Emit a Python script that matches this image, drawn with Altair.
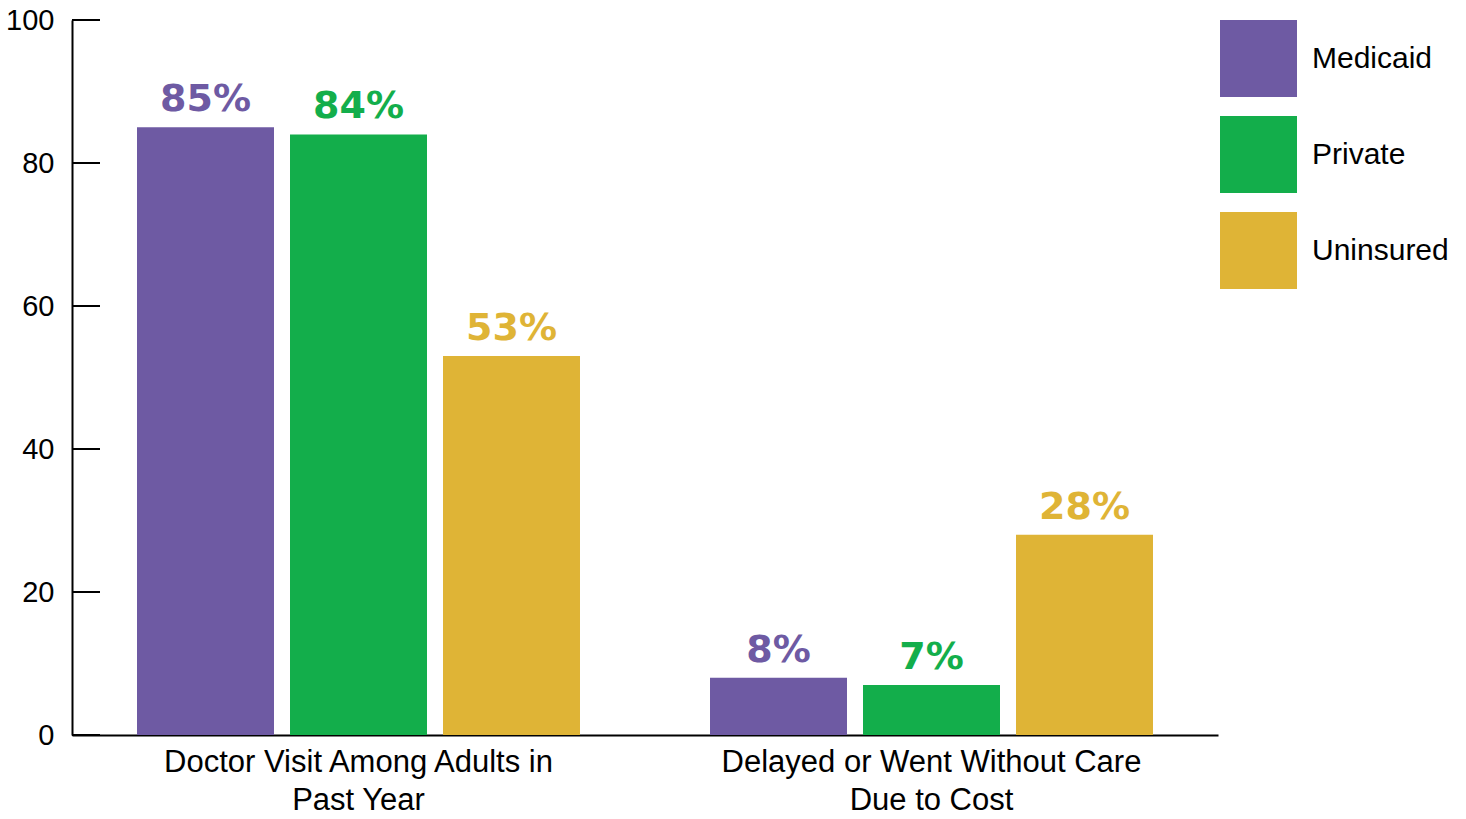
import altair as alt
import pandas as pd

FONT = "Liberation Sans"
BOLD_FONT = "DejaVu Sans"

categories = ["Doctor Visit Among Adults in|Past Year", "Delayed or Went Without Care|Due to Cost"]
groups = ["Medicaid", "Private", "Uninsured"]
medicaid = [85, 8]
private = [84, 7]
uninsured = [53, 28]
colors = ["#6E5AA3", "#13AE4B", "#DFB436"]
y_ticks = [0, 20, 40, 60, 80, 100]

rows = []
for g, vals in zip(groups, [medicaid, private, uninsured]):
    for c, v in zip(categories, vals):
        rows.append({"category": c, "group": g, "value": v, "label": f"{v}%"})
df = pd.DataFrame(rows)
ticks_df = pd.DataFrame({"value": y_ticks})

x = alt.X(
    "category:N",
    sort=categories,
    scale=alt.Scale(paddingInner=0.2269, paddingOuter=0.11345),
    axis=alt.Axis(
        title=None, labelAngle=0, labelExpr="split(datum.label, '|')",
        labelFontSize=31, labelLineHeight=38, labelPadding=12, ticks=False,
        domainColor="black", domainWidth=2, labelColor="black", labelFont=FONT,
        labelBaseline="top", labelLimit=0,
    ),
)
xo = alt.XOffset("group:N", sort=groups, scale=alt.Scale(paddingInner=0.1046, paddingOuter=0))
y = alt.Y(
    "value:Q",
    scale=alt.Scale(domain=[0, 100], nice=False),
    axis=alt.Axis(
        values=y_ticks, title=None, grid=False, ticks=False,
        domainColor="black", domainWidth=2, labelFontSize=29, labelPadding=18,
        labelColor="black", labelFont=FONT,
    ),
)
color_scale = alt.Scale(domain=groups, range=colors)

bars = alt.Chart(df).mark_bar().encode(
    x=x, xOffset=xo, y=y,
    color=alt.Color(
        "group:N", sort=groups, scale=color_scale,
        legend=alt.Legend(
            title=None, orient="none", legendX=1148, legendY=0,
            symbolType="square", symbolSize=5929, symbolStrokeWidth=0,
            symbolOpacity=1, labelFontSize=30, labelFont=FONT, labelColor="black",
            rowPadding=19, labelOffset=15, padding=0, labelLimit=0,
        ),
    ),
)

texts = alt.Chart(df).mark_text(
    dy=-16, baseline="alphabetic", fontWeight="bold", fontSize=38, font=BOLD_FONT
).encode(
    x=x, xOffset=xo, y=y, text="label:N",
    color=alt.Color("group:N", sort=groups, scale=color_scale, legend=None),
)

tick_rules = alt.Chart(ticks_df).mark_rule(color="black", strokeWidth=2).encode(
    y=y,
    x=alt.value(0), x2=alt.value(28),
)

chart = alt.layer(bars, texts, tick_rules).properties(
    width=1146, height=715,
    autosize=alt.AutoSizeParams(type="none"),
    padding={"left": 72, "top": 20, "right": 248, "bottom": 84},
).configure_view(stroke=None)

chart.save("out.html", embed_options={"renderer": "svg", "actions": False})
